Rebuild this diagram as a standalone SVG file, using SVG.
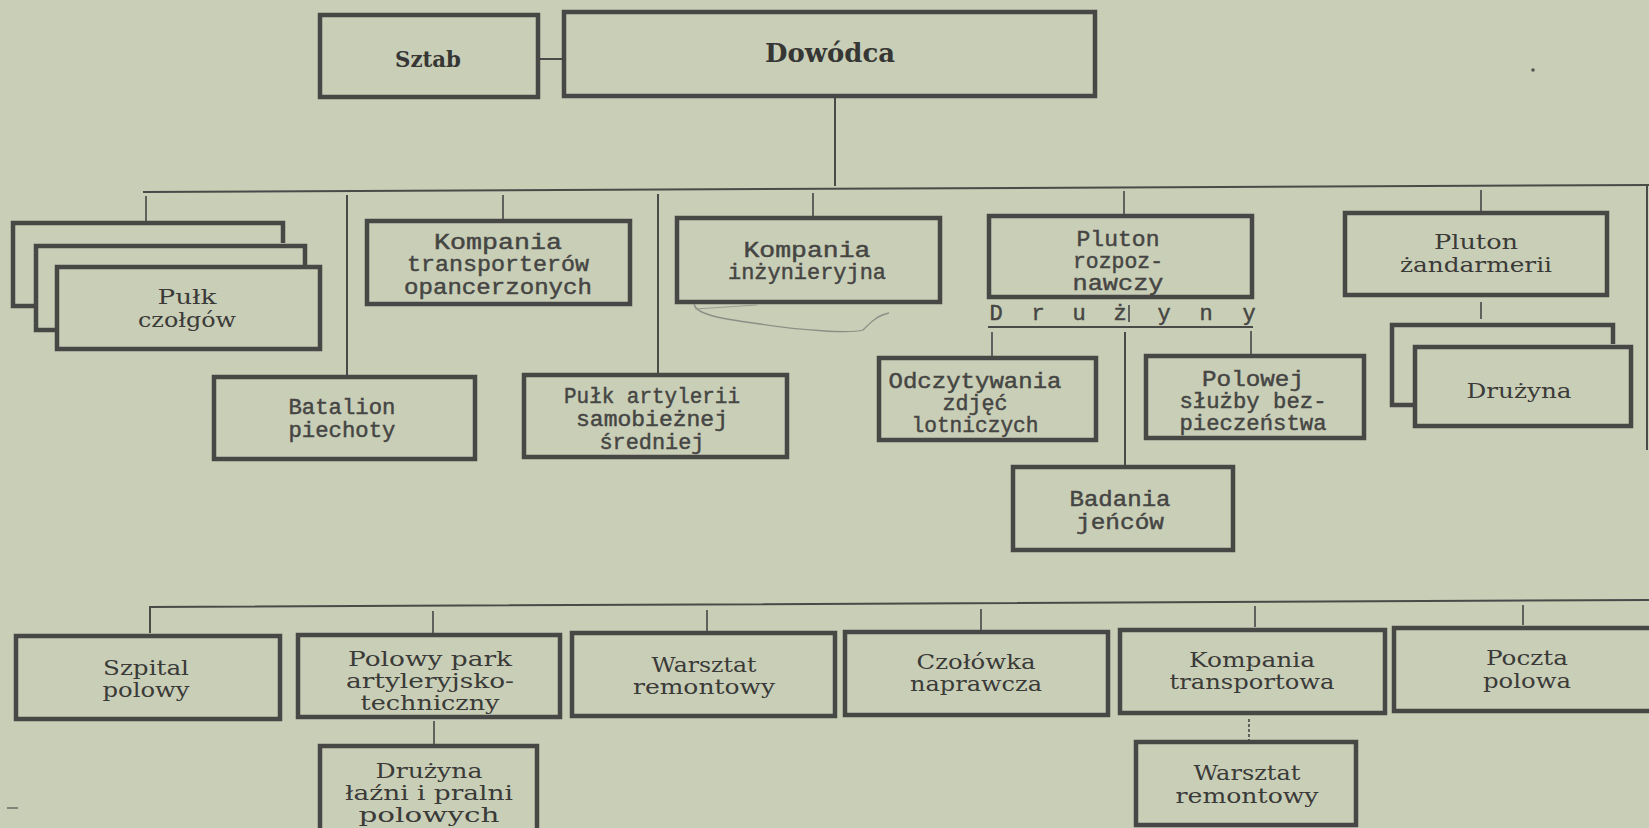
<svg xmlns="http://www.w3.org/2000/svg" width="1649" height="828" viewBox="0 0 1649 828">
<style>
.box{fill:none;stroke:#474745;stroke-width:4.5}
.stk{fill:none;stroke:#474745;stroke-width:4.5}
.ln{fill:none;stroke:#4a4a48;stroke-width:2}
.tk{fill:none;stroke:#555553;stroke-width:1.8}
.sl{font-family:"DejaVu Serif","Liberation Serif",serif;font-size:21px;fill:#3a3a38;text-anchor:middle}
.tw{font-family:"Liberation Mono","DejaVu Sans Mono",monospace;font-size:22px;fill:#454543;stroke:#454543;stroke-width:0.45;text-anchor:middle}
.bd{font-family:"DejaVu Serif","Liberation Serif",serif;font-weight:bold;fill:#363634;text-anchor:middle}
</style>
<rect x="0" y="0" width="1649" height="828" fill="#c9ceb7"/>

<g id="connectors">
<line class="ln" x1="538" y1="59" x2="564" y2="59"/>
<line class="ln" x1="835" y1="98" x2="835" y2="186"/>
<line class="ln" x1="143" y1="192" x2="1649" y2="185"/>
<line class="tk" x1="146" y1="196" x2="146" y2="221"/>
<line class="ln" x1="347" y1="195" x2="347" y2="375"/>
<line class="tk" x1="503" y1="195" x2="503" y2="219"/>
<line class="ln" x1="658" y1="194" x2="658" y2="374"/>
<line class="tk" x1="813" y1="193" x2="813" y2="217"/>
<line class="tk" x1="1124" y1="191" x2="1124" y2="214"/>
<line class="tk" x1="1481" y1="190" x2="1481" y2="211"/>
<line class="ln" x1="1647" y1="185" x2="1647" y2="450"/>
<line class="ln" x1="988" y1="327" x2="1253" y2="327"/>
<line class="tk" x1="1129" y1="305" x2="1129" y2="322"/>
<line class="tk" x1="992" y1="332" x2="992" y2="356"/>
<line class="ln" x1="1125" y1="332" x2="1125" y2="466"/>
<line class="tk" x1="1251" y1="331" x2="1251" y2="354"/>
<line class="tk" x1="1481" y1="302" x2="1481" y2="319"/>
<path class="ln" d="M150,633 V607 L1649,600"/>
<line class="tk" x1="433" y1="611" x2="433" y2="633"/>
<line class="tk" x1="707" y1="610" x2="707" y2="631"/>
<line class="tk" x1="981" y1="609" x2="981" y2="630"/>
<line class="tk" x1="1255" y1="606" x2="1255" y2="627"/>
<line class="tk" x1="1523" y1="605" x2="1523" y2="625"/>
<line class="tk" x1="434" y1="721" x2="434" y2="744"/>
<line class="tk" x1="1249" y1="719" x2="1249" y2="740" stroke-dasharray="3 2"/>
</g>

<g id="sztab">
<rect class="box" x="320" y="15" width="218" height="82"/>
<text class="bd" x="428" y="67" font-size="23" textLength="66" lengthAdjust="spacingAndGlyphs">Sztab</text>
</g>
<g id="dowodca">
<rect class="box" x="564" y="12" width="531" height="84"/>
<text class="bd" x="830" y="62" font-size="26" textLength="130" lengthAdjust="spacingAndGlyphs">Dowódca</text>
</g>

<g id="pulk-czolgow">
<path class="stk" d="M34,306 H13 V223 H283 V243"/>
<path class="stk" d="M57,330 H36 V246 H305 V265"/>
<rect class="box" x="57" y="267" width="263" height="82"/>
<text class="sl" x="187" y="304" textLength="59" lengthAdjust="spacingAndGlyphs">Pułk</text>
<text class="sl" x="187" y="327" textLength="98" lengthAdjust="spacingAndGlyphs">czołgów</text>
</g>

<g id="kompania-transporterow">
<rect class="box" x="367" y="221" width="263" height="83"/>
<text class="tw" x="498" y="249" textLength="128" lengthAdjust="spacingAndGlyphs">Kompania</text>
<text class="tw" x="498" y="271" textLength="182" lengthAdjust="spacingAndGlyphs">transporterów</text>
<text class="tw" x="498" y="294" textLength="188" lengthAdjust="spacingAndGlyphs">opancerzonych</text>
</g>

<g id="kompania-inzynieryjna">
<rect class="box" x="677" y="218" width="263" height="84"/>
<text class="tw" x="807" y="257" textLength="127" lengthAdjust="spacingAndGlyphs">Kompania</text>
<text class="tw" x="807" y="279" textLength="158" lengthAdjust="spacingAndGlyphs">inżynieryjna</text>
<path d="M694,304 C696,314 716,318 760,324 C800,330 850,334 863,330 C871,322 878,315 889,313" fill="none" stroke="#8d8f86" stroke-width="1.3"/>
<path d="M695,309 L757,305" fill="none" stroke="#9a9c92" stroke-width="1"/>
</g>

<g id="pluton-rozpoznawczy">
<rect class="box" x="989" y="216" width="263" height="81"/>
<text class="tw" x="1118" y="246" textLength="83" lengthAdjust="spacingAndGlyphs">Pluton</text>
<text class="tw" x="1118" y="268" textLength="90" lengthAdjust="spacingAndGlyphs">rozpoz-</text>
<text class="tw" x="1118" y="290" textLength="91" lengthAdjust="spacingAndGlyphs">nawczy</text>
<text class="tw" font-size="20" x="996 1038 1079 1120 1164 1206 1249" y="320">Drużyny</text>
</g>

<g id="pluton-zandarmerii">
<rect class="box" x="1345" y="213" width="262" height="82"/>
<text class="sl" x="1476" y="249" textLength="84" lengthAdjust="spacingAndGlyphs">Pluton</text>
<text class="sl" x="1476" y="272" textLength="152" lengthAdjust="spacingAndGlyphs">żandarmerii</text>
</g>

<g id="druzyna">
<path class="stk" d="M1413,405 H1392 V325 H1613 V344"/>
<rect class="box" x="1415" y="347" width="216" height="79"/>
<text class="sl" x="1519" y="398" textLength="105" lengthAdjust="spacingAndGlyphs">Drużyna</text>
</g>

<g id="batalion-piechoty">
<rect class="box" x="214" y="377" width="261" height="82"/>
<text class="tw" x="342" y="414" textLength="107" lengthAdjust="spacingAndGlyphs">Batalion</text>
<text class="tw" x="342" y="437" textLength="107" lengthAdjust="spacingAndGlyphs">piechoty</text>
</g>

<g id="pulk-artylerii">
<rect class="box" x="524" y="375" width="263" height="82"/>
<text class="tw" x="652" y="403" textLength="176" lengthAdjust="spacingAndGlyphs">Pułk artylerii</text>
<text class="tw" x="652" y="426" textLength="152" lengthAdjust="spacingAndGlyphs">samobieżnej</text>
<text class="tw" x="652" y="449" textLength="105" lengthAdjust="spacingAndGlyphs">średniej</text>
</g>

<g id="odczytywania">
<rect class="box" x="879" y="358" width="217" height="82"/>
<text class="tw" x="975" y="388" textLength="173" lengthAdjust="spacingAndGlyphs">Odczytywania</text>
<text class="tw" x="975" y="410" textLength="65" lengthAdjust="spacingAndGlyphs">zdjęć</text>
<text class="tw" x="975" y="432" textLength="127" lengthAdjust="spacingAndGlyphs">lotniczych</text>
</g>

<g id="polowej-sluzby">
<rect class="box" x="1146" y="356" width="218" height="82"/>
<text class="tw" x="1253" y="386" textLength="102" lengthAdjust="spacingAndGlyphs">Polowej</text>
<text class="tw" x="1253" y="408" textLength="147" lengthAdjust="spacingAndGlyphs">służby bez-</text>
<text class="tw" x="1253" y="430" textLength="147" lengthAdjust="spacingAndGlyphs">pieczeństwa</text>
</g>

<g id="badania-jencow">
<rect class="box" x="1013" y="467" width="220" height="83"/>
<text class="tw" x="1120" y="506" textLength="101" lengthAdjust="spacingAndGlyphs">Badania</text>
<text class="tw" x="1120" y="529" textLength="88" lengthAdjust="spacingAndGlyphs">jeńców</text>
</g>

<g id="szpital-polowy">
<rect class="box" x="16" y="636" width="264" height="83"/>
<text class="sl" x="146" y="675" textLength="86" lengthAdjust="spacingAndGlyphs">Szpital</text>
<text class="sl" x="146" y="697" textLength="87" lengthAdjust="spacingAndGlyphs">polowy</text>
</g>

<g id="polowy-park">
<rect class="box" x="298" y="635" width="262" height="82"/>
<text class="sl" x="430" y="666" textLength="164" lengthAdjust="spacingAndGlyphs">Polowy park</text>
<text class="sl" x="430" y="688" textLength="168" lengthAdjust="spacingAndGlyphs">artyleryjsko-</text>
<text class="sl" x="430" y="710" textLength="139" lengthAdjust="spacingAndGlyphs">techniczny</text>
</g>

<g id="warsztat-remontowy">
<rect class="box" x="572" y="633" width="263" height="83"/>
<text class="sl" x="704" y="672" textLength="105" lengthAdjust="spacingAndGlyphs">Warsztat</text>
<text class="sl" x="704" y="694" textLength="142" lengthAdjust="spacingAndGlyphs">remontowy</text>
</g>

<g id="czolowka-naprawcza">
<rect class="box" x="845" y="632" width="263" height="83"/>
<text class="sl" x="976" y="669" textLength="119" lengthAdjust="spacingAndGlyphs">Czołówka</text>
<text class="sl" x="976" y="691" textLength="132" lengthAdjust="spacingAndGlyphs">naprawcza</text>
</g>

<g id="kompania-transportowa">
<rect class="box" x="1120" y="630" width="265" height="83"/>
<text class="sl" x="1252" y="667" textLength="126" lengthAdjust="spacingAndGlyphs">Kompania</text>
<text class="sl" x="1252" y="689" textLength="165" lengthAdjust="spacingAndGlyphs">transportowa</text>
</g>

<g id="poczta-polowa">
<rect class="box" x="1394" y="628" width="270" height="83"/>
<text class="sl" x="1527" y="665" textLength="82" lengthAdjust="spacingAndGlyphs">Poczta</text>
<text class="sl" x="1527" y="688" textLength="88" lengthAdjust="spacingAndGlyphs">polowa</text>
</g>

<g id="druzyna-lazni">
<rect class="box" x="320" y="746" width="217" height="88"/>
<text class="sl" x="429" y="778" textLength="107" lengthAdjust="spacingAndGlyphs">Drużyna</text>
<text class="sl" x="429" y="800" textLength="168" lengthAdjust="spacingAndGlyphs">łaźni i pralni</text>
<text class="sl" x="429" y="822" textLength="141" lengthAdjust="spacingAndGlyphs">polowych</text>
</g>

<g id="warsztat-remontowy-2">
<rect class="box" x="1136" y="742" width="220" height="83"/>
<text class="sl" x="1247" y="780" textLength="107" lengthAdjust="spacingAndGlyphs">Warsztat</text>
<text class="sl" x="1247" y="803" textLength="143" lengthAdjust="spacingAndGlyphs">remontowy</text>
</g>

<circle cx="1533" cy="70" r="1.8" fill="#55554f"/>
<line x1="7" y1="808" x2="18" y2="808" stroke="#6a6a64" stroke-width="1.5"/>
</svg>
